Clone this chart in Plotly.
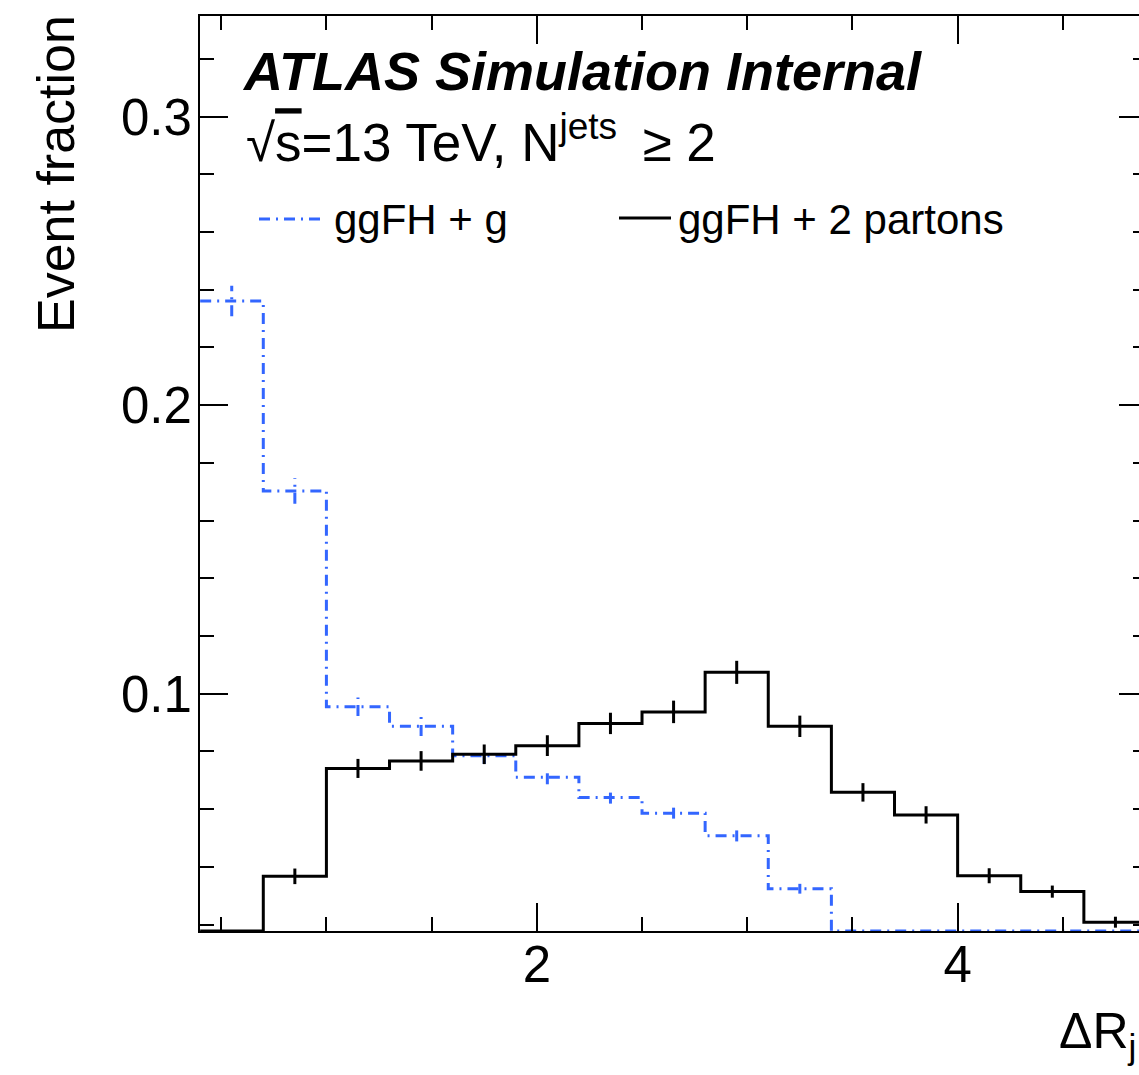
import numpy as np
import plotly.graph_objects as go

# Delta R bin edges (15 bins of width 0.3)
bin_edges = [0.4, 0.7, 1.0, 1.3, 1.6, 1.9, 2.2, 2.5, 2.8, 3.1, 3.4, 3.7, 4.0, 4.3, 4.6, 4.9]

# ggFH + 2 partons
frac_2partons = [0.0, 0.0367, 0.0741, 0.0767, 0.0790, 0.0820, 0.0897, 0.0937,
                 0.1074, 0.0887, 0.0658, 0.0580, 0.0369, 0.0314, 0.0208]
err_2partons = [0.0, 0.0027, 0.0033, 0.0034, 0.0034, 0.0036, 0.0037, 0.0039,
                0.0040, 0.0037, 0.0032, 0.0030, 0.0026, 0.0021, 0.0019]

# ggFH + g
frac_g = [0.2361, 0.1703, 0.0955, 0.0887, 0.0785, 0.0710, 0.0640, 0.0586,
          0.0508, 0.0324, 0.0, 0.0, 0.0, 0.0, 0.0]
err_g = [0.0053, 0.0045, 0.0032, 0.0034, 0.0028, 0.0024, 0.0021, 0.0019,
         0.0020, 0.0017, 0.0, 0.0, 0.0, 0.0, 0.0]

legend_labels = ["ggFH + g", "ggFH + 2 partons"]

X_RANGE = [0.3992, 4.862]
Y_RANGE = [0.01775, 0.3349]

W, H = 1139, 1075
ML, MR, MT, MB = 200, 0, 16, 144
PW, PH = W - ML - MR, H - MT - MB

BLUE = "#3366ff"
FONT = "Liberation Sans, Arial, Helvetica, sans-serif"
DASHDOT = "11px,6px,2px,6px"


def px_x(px):
    return (px - ML) / PW


def px_y(py):
    return (MT + PH - py) / PH


def step_xy(edges, vals):
    # ROOT-like outline: values below the frame are drawn on the frame bottom
    v = np.maximum(np.asarray(vals, dtype=float), Y_RANGE[0])
    return list(edges), list(v) + [v[-1]]


def err_xy(edges, vals, errs):
    xs, ys = [], []
    for i, (v, e) in enumerate(zip(vals, errs)):
        if e <= 0:
            continue
        c = 0.5 * (edges[i] + edges[i + 1])
        xs += [c, c, None]
        ys += [v - e, v + e, None]
    return xs, ys


fig = go.Figure()

# ggFH + g (dash-dot)
hx, hy = step_xy(bin_edges, frac_g)
fig.add_trace(go.Scatter(x=hx, y=hy, mode="lines", line_shape="hv",
                         line=dict(color=BLUE, width=3, dash=DASHDOT),
                         showlegend=False, hoverinfo="skip"))
ex, ey = err_xy(bin_edges, frac_g, err_g)
fig.add_trace(go.Scatter(x=ex, y=ey, mode="lines",
                         line=dict(color=BLUE, width=3, dash=DASHDOT),
                         showlegend=False, hoverinfo="skip"))

# ggFH + 2 partons (solid)
hx, hy = step_xy(bin_edges, frac_2partons)
fig.add_trace(go.Scatter(x=hx, y=hy, mode="lines", line_shape="hv",
                         line=dict(color="black", width=3),
                         showlegend=False, hoverinfo="skip"))
ex, ey = err_xy(bin_edges, frac_2partons, err_2partons)
fig.add_trace(go.Scatter(x=ex, y=ey, mode="lines",
                         line=dict(color="black", width=3),
                         showlegend=False, hoverinfo="skip"))

# invisible trace to attach the right-hand tick axis
fig.add_trace(go.Scatter(x=[None], y=[None], yaxis="y2", showlegend=False, hoverinfo="skip"))

axis_common = dict(showline=True, linecolor="black", linewidth=2,
                   ticks="inside", tickcolor="black", tickwidth=2,
                   showgrid=False, zeroline=False,
                   tickfont=dict(family=FONT, size=51, color="black"))

fig.update_layout(
    width=W, height=H,
    margin=dict(l=ML, r=MR, t=MT, b=MB, pad=0),
    paper_bgcolor="white", plot_bgcolor="white",
    showlegend=False,
    xaxis=dict(range=X_RANGE, tick0=0, dtick=2, ticklen=28, mirror="ticks",
               minor=dict(dtick=0.5, tick0=0, ticks="inside", ticklen=14,
                          tickwidth=2, tickcolor="black", showgrid=False),
               ticklabelstandoff=-12, **axis_common),
    yaxis=dict(range=Y_RANGE, tick0=0, dtick=0.1, ticklen=28, mirror=False,
               tickformat=".1f",
               minor=dict(dtick=0.02, tick0=0, ticks="inside", ticklen=14,
                          tickwidth=2, tickcolor="black", showgrid=False),
               ticklabelstandoff=-4, **axis_common),
    yaxis2=dict(range=Y_RANGE, overlaying="y", side="right", anchor="free", position=1.0,
                showline=False, showgrid=False, zeroline=False, showticklabels=False,
                ticks="inside", tick0=0, dtick=0.1, ticklen=20, tickwidth=2, tickcolor="black",
                minor=dict(dtick=0.02, tick0=0, ticks="inside", ticklen=6,
                           tickwidth=2, tickcolor="black", showgrid=False)),
)


def ann(text, px, baseline, size, xanchor="left", **kw):
    # place a text by the pixel position of its left edge and baseline
    bottom = baseline + 0.212 * size
    fig.add_annotation(text=text, x=px_x(px), y=px_y(bottom), xref="paper", yref="paper",
                       xanchor=xanchor, yanchor="bottom", showarrow=False,
                       borderpad=0, borderwidth=0,
                       font=dict(family=FONT, size=size, color="black"), **kw)


# labels
ann("<b><i>ATLAS Simulation Internal</i></b>", 242, 90, 54)
ann("√<span style='text-decoration:overline'>s</span>=13 TeV, N<sup>jets</sup>\u2009 ≥ 2",
    246, 161, 53)

# legend
fig.add_shape(type="line", xref="paper", yref="paper",
              x0=px_x(259), x1=px_x(323), y0=px_y(219), y1=px_y(219),
              line=dict(color=BLUE, width=3, dash=DASHDOT))
ann(legend_labels[0], 334, 234, 42)
fig.add_shape(type="line", xref="paper", yref="paper",
              x0=px_x(619), x1=px_x(671), y0=px_y(218), y1=px_y(218),
              line=dict(color="black", width=3))
ann(legend_labels[1], 678, 234, 42)

# axis titles
fig.add_annotation(text="Event fraction", x=px_x(56), y=px_y(15), xref="paper", yref="paper",
                   xanchor="center", yanchor="top", textangle=-90, showarrow=False,
                   borderpad=0, borderwidth=0,
                   font=dict(family=FONT, size=52, color="black"))
fig.add_annotation(text="ΔR<sub>j</sub>", x=px_x(1059), y=px_y(1048 - 0.905 * 50),
                   xref="paper", yref="paper", xanchor="left", yanchor="top",
                   showarrow=False, borderpad=0, borderwidth=0,
                   font=dict(family=FONT, size=50, color="black"))

fig.write_html("out.html")
